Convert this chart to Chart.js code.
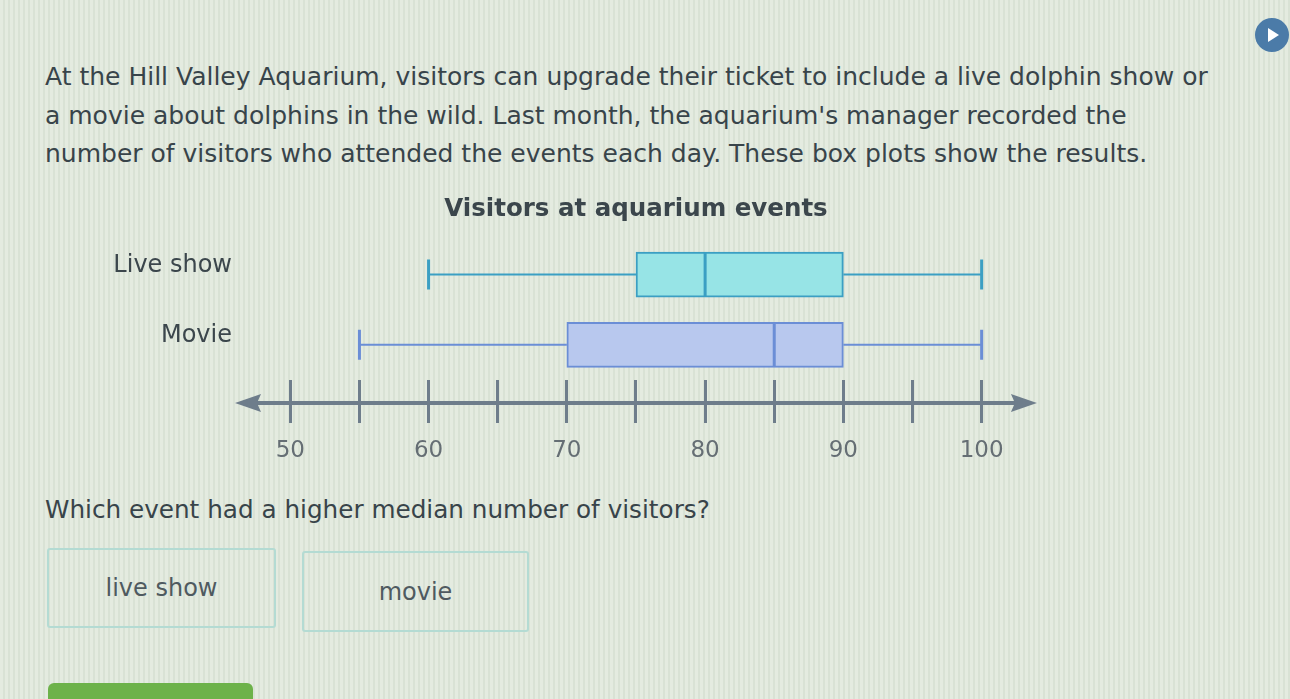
<!DOCTYPE html>
<html>
<head>
<meta charset="utf-8">
<script src="https://cdn.jsdelivr.net/npm/chart.js@4"></script>
<style>
  html, body { margin: 0; padding: 0; }
  body {
    width: 1290px; height: 699px; overflow: hidden; position: relative;
    font-family: "DejaVu Sans", Verdana, sans-serif;
    background: repeating-linear-gradient(90deg, #e4ebe0 0px, #e4ebe0 3px, #d9e2d5 3px, #d9e2d5 5px);
  }
  .intro { position: absolute; left: 45px; top: 58px; font-size: 25px; line-height: 38.5px; color: #38444a; white-space: nowrap; }
  .question { position: absolute; left: 45px; top: 491px; font-size: 24.7px; line-height: 38px; color: #38444a; white-space: nowrap; }
  .choice { position: absolute; border: 2px solid #b4dbd3; border-radius: 3px; font-size: 24px; color: #4f5a60;
            display: flex; align-items: center; justify-content: center; box-sizing: border-box; }
  .go { position: absolute; left: 48px; top: 683px; width: 205px; height: 30px; background: #6db24a; border-radius: 6px; }
  .play { position: absolute; left: 1255px; top: 18px; width: 34px; height: 34px; border-radius: 50%; background: #4b7ba8; }
  .play:after { content: ""; position: absolute; left: 13px; top: 10px; border-left: 11px solid #fff; border-top: 7px solid transparent; border-bottom: 7px solid transparent; }
  #wrap { position: absolute; left: 0; top: 180px; width: 1290px; height: 300px; }
</style>
</head>
<body>
<div class="play"></div>
<div class="intro">At the Hill Valley Aquarium, visitors can upgrade their ticket to include a live dolphin show or<br>a movie about dolphins in the wild. Last month, the aquarium's manager recorded the<br>number of visitors who attended the events each day. These box plots show the results.</div>
<div id="wrap"><canvas id="boxChart"></canvas></div>
<div class="question">Which event had a higher median number of visitors?</div>
<div class="choice" style="left:47px; top:548px; width:229px; height:80px;">live show</div>
<div class="choice" style="left:302px; top:551px; width:227px; height:81px;">movie</div>
<div class="go"></div>

<script>
var categories = ['Live show', 'Movie'];
var minVals = [60, 55];
var q1Vals = [75, 70];
var medianVals = [80, 85];
var q3Vals = [90, 90];
var maxVals = [100, 100];
var tickValues = [50, 55, 60, 65, 70, 75, 80, 85, 90, 95, 100];
var labeledTicks = [50, 60, 70, 80, 90, 100];
// ends of the drawn number line (arrow tips)
var lineStart = 46;
var lineEnd = 104;

var fillColors = ['#97e4e6', '#b8c8ee'];
var lineColors = ['#3b9fc3', '#6b8ed6'];
var axisColor = '#6e7d8b';
var fontFamily = '"DejaVu Sans", Verdana, sans-serif';

// whiskers, caps and medians, placed with the chart's own scales
var boxLines = {
    id: 'boxLines',
    afterDatasetsDraw: function (chart) {
        var ctx = chart.ctx;
        var xs = chart.scales.x;
        var ys = chart.scales.y;
        categories.forEach(function (c, i) {
            var cy = ys.getPixelForValue(i);
            ctx.save();
            ctx.strokeStyle = lineColors[i];
            ctx.lineWidth = 2;
            ctx.beginPath();
            ctx.moveTo(xs.getPixelForValue(minVals[i]), cy);
            ctx.lineTo(xs.getPixelForValue(q1Vals[i]), cy);
            ctx.moveTo(xs.getPixelForValue(q3Vals[i]), cy);
            ctx.lineTo(xs.getPixelForValue(maxVals[i]), cy);
            ctx.stroke();
            ctx.lineWidth = 3;
            ctx.beginPath();
            [minVals[i], maxVals[i]].forEach(function (v) {
                var px = xs.getPixelForValue(v);
                ctx.moveTo(px, cy - 15);
                ctx.lineTo(px, cy + 15);
            });
            var mx = xs.getPixelForValue(medianVals[i]);
            ctx.moveTo(mx, cy - 22);
            ctx.lineTo(mx, cy + 22);
            ctx.stroke();
            ctx.restore();
        });
    }
};

// number line with arrow heads at both ends
var arrowAxis = {
    id: 'arrowAxis',
    afterDraw: function (chart) {
        var ctx = chart.ctx;
        var xs = chart.scales.x;
        var left = xs.getPixelForValue(lineStart);
        var right = xs.getPixelForValue(lineEnd);
        var y = chart.chartArea.bottom + 23;
        ctx.save();
        ctx.strokeStyle = axisColor;
        ctx.fillStyle = axisColor;
        ctx.lineWidth = 4;
        ctx.beginPath();
        ctx.moveTo(left + 20, y);
        ctx.lineTo(right - 20, y);
        ctx.stroke();
        ctx.beginPath();
        ctx.moveTo(left, y);
        ctx.lineTo(left + 26, y - 9);
        ctx.lineTo(left + 22, y);
        ctx.lineTo(left + 26, y + 9);
        ctx.closePath();
        ctx.fill();
        ctx.beginPath();
        ctx.moveTo(right, y);
        ctx.lineTo(right - 26, y - 9);
        ctx.lineTo(right - 22, y);
        ctx.lineTo(right - 26, y + 9);
        ctx.closePath();
        ctx.fill();
        ctx.restore();
    }
};

var ctx = document.getElementById('boxChart').getContext('2d');
var boxChart = new Chart(ctx, {
    type: 'bar',
    data: {
        labels: categories,
        datasets: [{
            data: categories.map(function (c, i) { return [q1Vals[i], q3Vals[i]]; }),
            backgroundColor: fillColors,
            borderColor: lineColors,
            borderWidth: 2,
            borderSkipped: false,
            barThickness: 45
        }]
    },
    options: {
        indexAxis: 'y',
        responsive: true,
        maintainAspectRatio: false,
        animation: false,
        layout: { padding: { left: 0, right: 18, top: 0, bottom: 20 } },
        plugins: {
            legend: { display: false },
            tooltip: { enabled: false },
            title: {
                display: true,
                text: 'Visitors at aquarium events',
                color: '#3b464c',
                font: { family: fontFamily, size: 24.5, weight: 'bold' },
                padding: { top: 15, bottom: 15 }
            }
        },
        scales: {
            x: {
                type: 'linear',
                min: lineStart,
                max: 121,
                border: { display: false },
                grid: { drawOnChartArea: false, tickLength: 43, color: axisColor, lineWidth: 3 },
                ticks: {
                    padding: 14,
                    autoSkip: false,
                    maxRotation: 0,
                    color: '#656e74',
                    font: { family: fontFamily, size: 23 },
                    callback: function (v) { return labeledTicks.indexOf(v) >= 0 ? String(v) : ''; }
                },
                afterBuildTicks: function (s) { s.ticks = tickValues.map(function (v) { return { value: v }; }); },
                afterFit: function (s) { s.height = 80; }
            },
            y: {
                type: 'category',
                offset: true,
                border: { display: false },
                grid: { display: false, drawTicks: false },
                ticks: {
                    padding: 3,
                    labelOffset: -9,
                    color: '#3b464c',
                    font: { family: fontFamily, size: 24 }
                },
                afterFit: function (s) { s.width = 235; }
            }
        }
    },
    plugins: [boxLines, arrowAxis]
});
</script>
</body>
</html>
